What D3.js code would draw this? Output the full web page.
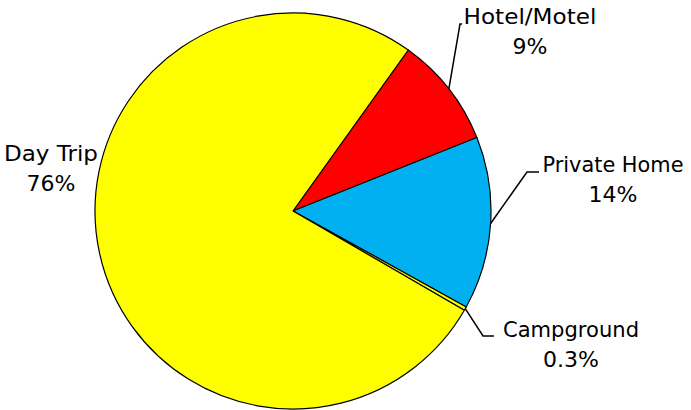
<!DOCTYPE html>
<html>
<head>
<meta charset="utf-8">
<script src="https://cdn.jsdelivr.net/npm/d3@7"></script>
<style>
  html, body { margin: 0; padding: 0; background: #fff; }
  svg { display: block; }
  text { font-family: "DejaVu Sans", sans-serif; font-size: 22px; fill: #000; }
</style>
</head>
<body>
<svg id="chart" width="691" height="410"></svg>
<script>
// ---- data ----
const categories = ["Hotel/Motel", "Private Home", "Campground", "Day Trip"];
const values = [9, 14, 0.3, 76];
const valueLabels = ["9%", "14%", "0.3%", "76%"];
const colors = ["#FF0000", "#00B0F0", "#FFFF00", "#FFFF00"];

// ---- layout ----
const W = 691, H = 410;
const cx = 293, cy = 211, R = 198;
const start = 35.6 * Math.PI / 180;

// label layout (tw = target width of the name line)
const labelLayout = [
  { tx: 530, ty: 24, ex: 460, ey: 24, hx: 462, tw: 133 },
  { tx: 613, ty: 172, ex: 527, ey: 172, hx: 539, tw: 141 },
  { tx: 571, ty: 337, ex: 483, ey: 336, hx: 494, tw: 136 },
  { tx: 51, ty: 161, ex: null, tw: 94 }
];

const svg = d3.select("#chart");
const g = svg.append("g").attr("transform", `translate(${cx},${cy})`);

const pie = d3.pie().sort(null).value(d => d)
  .startAngle(start).endAngle(start + 2 * Math.PI);
const arcs = pie(values);
const arc = d3.arc().innerRadius(0).outerRadius(R);

g.selectAll("path.slice").data(arcs).join("path")
  .attr("class", "slice")
  .attr("d", arc)
  .attr("fill", (d, i) => colors[i])
  .attr("stroke", "#000")
  .attr("stroke-width", 1.2)
  .attr("stroke-linejoin", "round");

// leader lines
arcs.forEach((a, i) => {
  const L = labelLayout[i];
  if (L.ex == null) return;
  const mid = (a.startAngle + a.endAngle) / 2;
  const px = cx + R * Math.sin(mid), py = cy - R * Math.cos(mid);
  svg.append("polyline")
    .attr("points", `${px},${py} ${L.ex},${L.ey} ${L.hx},${L.ey}`)
    .attr("fill", "none").attr("stroke", "#000").attr("stroke-width", 1.5);
});

// labels
arcs.forEach((a, i) => {
  const L = labelLayout[i];
  svg.append("text").attr("text-anchor", "middle")
    .attr("x", L.tx).attr("y", L.ty)
    .attr("textLength", L.tw).attr("lengthAdjust", "spacingAndGlyphs")
    .text(categories[i]);
  svg.append("text").attr("text-anchor", "middle")
    .attr("x", L.tx).attr("y", L.ty + 30).text(valueLabels[i]);
});
</script>
</body>
</html>
